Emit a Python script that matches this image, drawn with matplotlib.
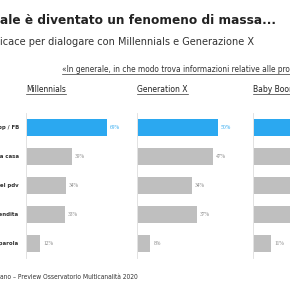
import matplotlib
matplotlib.use("Agg")
import matplotlib.pyplot as plt
from matplotlib import font_manager as fm
from matplotlib.lines import Line2D

# data (Baby Boomers values are cut off, estimated)
categories = ["pp / FB", "i a casa", "nel pdv", "vendita", "aparola"]
millennials = [69, 39, 34, 33, 12]
generation_x = [50, 47, 34, 37, 8]
baby_boomers = [49, 44, 38, 40, 11]
panel_titles = ["Millennials", "Generation X", "Baby Boomers"]

title = "ale è diventato un fenomeno di massa..."
subtitle = "icace per dialogare con Millennials e Generazione X"
question = "«In generale, in che modo trova informazioni relative alle prodotti»"
footer = "ano – Preview Osservatorio Multicanalità 2020"

BLUE = "#2ba8f0"
GREY = "#bfbfbf"
W = H = 290.0


# look for a narrow sans font, the slide uses a condensed face
def narrow_font(bold=False):
    cands = []
    for f in fm.fontManager.ttflist:
        p = f.fname.lower()
        if ("narrow" in p or "condensed" in p) and "mono" not in p and "serif" not in p:
            if "italic" in p or "oblique" in p:
                continue
            isbold = "bold" in p
            if isbold == bold:
                cands.append(f.fname)
    if cands:
        cands.sort(key=lambda s: ("liberation" not in s.lower(), len(s)))
        return fm.FontProperties(fname=cands[0])
    return fm.FontProperties(family="Liberation Sans",
                             weight="bold" if bold else "normal")


REG = narrow_font(False)
BOLD = narrow_font(True)

fig = plt.figure(figsize=(2.9, 2.9), dpi=100)
fig.patch.set_facecolor("white")


def px(x, y):
    return x / W, 1 - y / H


fitted = []   # (text artist, part used to measure, target width px)
underlined = []


def ftext(x, y, s, fp, size, color, width=None, measure=None, **kw):
    fp = fp.copy()
    fp.set_size(size)
    t = fig.text(*px(x, y), s, fontproperties=fp, color=color, **kw)
    if width:
        fitted.append((t, measure or s, width))
    return t


ftext(0, 24, title, BOLD, 11, "#222222", width=275, va="baseline")
ftext(0, 45, subtitle, REG, 8, "#333333", width=253, va="baseline")
q = ftext(62, 72, question, REG, 6, "#333333", width=228,
          measure="«In generale, in che modo trova informazioni relative alle pro",
          va="baseline")
underlined.append(q)
ftext(0, 279, footer, REG, 5.5, "#333333", width=138, va="baseline")

panels = [millennials, generation_x, baby_boomers]
lefts = [26, 137, 253]
title_w = [40, 51, None]
for i, (vals, name) in enumerate(zip(panels, panel_titles)):
    ax = fig.add_axes([lefts[i] / W, 32 / H, 100 / W, 145 / H])
    ypos = list(range(len(vals)))
    colors = [BLUE] + [GREY] * (len(vals) - 1)
    off = 0.5 * max(vals) / 80
    ax.barh(ypos, vals, height=0.62, color=colors, left=off)
    ax.set_xlim(0, max(vals) * 100 / 80)
    ax.set_ylim(len(vals) - 0.5, -0.5)
    for y, v, c in zip(ypos, vals, colors):
        ax.text(v + off + max(vals) * 3 / 80, y, f"{v}%",
                fontsize=4, family="Liberation Serif",
                color=(BLUE if c == BLUE else "#888888"), va="center")
    for s in ["top", "right", "bottom"]:
        ax.spines[s].set_visible(False)
    ax.spines["left"].set_color("#dddddd")
    ax.spines["left"].set_linewidth(0.6)
    ax.set_xticks([])
    ax.set_yticks([])
    t = ftext(lefts[i], 92, name, REG, 7, "#222222",
              width=title_w[i] or 0, va="baseline")
    underlined.append(t)

for y, lab in enumerate(categories):
    ftext(19, 127.5 + 29 * y, lab, BOLD, 4.3, "#333333", ha="right", va="center")

# scale fitted texts so their width matches the slide
fig.canvas.draw()
r = fig.canvas.get_renderer()
scale_gen = None
for t, m, w in fitted:
    full = t.get_text()
    t.set_text(m)
    bb = t.get_window_extent(r)
    t.set_fontsize(t.get_fontsize() * w / bb.width)
    t.set_text(full)
# Baby Boomers title uses the same size as the other panel titles
underlined[-1].set_fontsize(underlined[-2].get_fontsize())

fig.canvas.draw()
for t in underlined:
    bb = t.get_window_extent(r)
    yy = (bb.y0 - 0.3) / H
    fig.add_artist(Line2D([bb.x0 / W, bb.x1 / W], [yy, yy],
                          transform=fig.transFigure, color="#333333", lw=0.5))

fig.savefig("out.png", dpi=100)
